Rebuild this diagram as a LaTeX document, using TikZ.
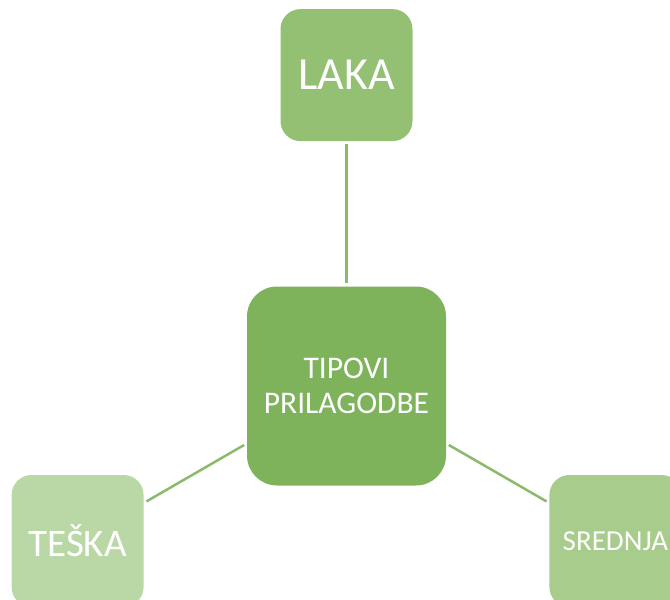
\documentclass[tikz,border=0pt]{standalone}
\usepackage{fontspec}
\setmainfont{Carlito}
\usetikzlibrary{positioning}
\definecolor{hubgreen}{HTML}{7EB35B}
\definecolor{lakagreen}{HTML}{93C073}
\definecolor{srednjagreen}{HTML}{A7CC8B}
\definecolor{teskagreen}{HTML}{B9D8A6}
\definecolor{linkgreen}{HTML}{8BBA6B}
\begin{document}
\begin{tikzpicture}[
    x=1pt, y=1pt,
    every node/.style={text=white, inner sep=0pt, align=center},
    hub/.style={fill=hubgreen, minimum size=199pt, rounded corners=30pt, font=\fontsize{31.5}{35}\selectfont},
    leaf/.style={minimum size=132pt, rounded corners=20pt},
    link/.style={draw=linkgreen, line width=2.5pt, shorten >=3pt, shorten <=3pt},
]
\useasboundingbox (0,0) rectangle (670,-600);
\node[hub] (tipovi) at (346.5,-386) {TIPOVI\\PRILAGODBE};
\node[leaf, fill=lakagreen, font=\fontsize{46}{55}\selectfont, above=145pt of tipovi] (laka) {LAKA};
\node[leaf, fill=teskagreen, font=\fontsize{39}{47}\selectfont, left=103pt of tipovi, yshift=-155pt] (teska) {TEŠKA};
\node[leaf, fill=srednjagreen, font=\fontsize{29}{35}\selectfont, right=103pt of tipovi, yshift=-155pt] (srednja) {SREDNJA};
\draw[link] (tipovi) -- (laka);
\draw[link] (tipovi) -- (teska);
\draw[link] (tipovi) -- (srednja);
\end{tikzpicture}
\end{document}
